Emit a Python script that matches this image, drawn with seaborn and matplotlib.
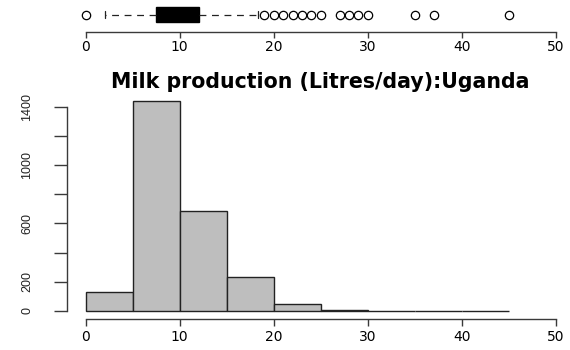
import matplotlib
matplotlib.use("Agg")
import matplotlib.pyplot as plt
import seaborn as sns
import numpy as np

# ---- data ----
bin_edges = [0, 5, 10, 15, 20, 25, 30, 35, 40, 45]
bin_counts = [130, 1439, 685, 231, 50, 5, 2, 1, 1]
x_ticks = [0, 10, 20, 30, 40, 50]
y_ticks = [0, 200, 400, 600, 800, 1000, 1200, 1400]
y_tick_labels = ["0", "200", "", "600", "", "1000", "", "1400"]
title = "Milk production (Litres/day):Uganda"

box_q1 = 7.5
box_median = 10.0
box_q3 = 12.0
whisker_low = 2.0
whisker_high = 18.3
outliers = [0, 19, 20, 21, 22, 23, 24, 25, 27, 28, 29, 30, 35, 37, 45]

sns.set_theme(style="white")
plt.rcParams["font.family"] = ["DejaVu Sans"]

fig = plt.figure(figsize=(5.7, 3.5), dpi=100)
fig.patch.set_facecolor("white")

W, H = 570.0, 350.0
left = 66.9 / W
width = 507.6 / W
ax_h = fig.add_axes([left, 30.6 / H, width, 226.8 / H])
ax_b = fig.add_axes([left, (H - 32.3) / H, width, 32.3 / H])

axis_col = "#3a3a3a"

# ---- histogram ----
mids = [(a + b) / 2 for a, b in zip(bin_edges[:-1], bin_edges[1:])]
sns.histplot(x=mids, weights=bin_counts, bins=bin_edges, ax=ax_h,
             color="#BEBEBE", edgecolor="#222222", linewidth=1.0, alpha=1.0)
ax_h.set_xlim(-2, 52)
top = max(bin_counts) * 1.04
ax_h.set_ylim(-0.04 * max(bin_counts), top)
ax_h.set_xlabel("")
ax_h.set_ylabel("")
ax_h.set_xticks(x_ticks)
ax_h.set_xticklabels([str(t) for t in x_ticks], fontsize=10)
ax_h.set_yticks(y_ticks)
ax_h.set_yticklabels(y_tick_labels, fontsize=9, family="Liberation Sans")
for s in ["top", "right"]:
    ax_h.spines[s].set_visible(False)
ax_h.spines["left"].set_bounds(0, 1400)
ax_h.spines["bottom"].set_bounds(0, 50)
for s in ["left", "bottom"]:
    ax_h.spines[s].set_color(axis_col)
    ax_h.spines[s].set_linewidth(1.0)
ax_h.tick_params(axis="x", direction="out", length=5, width=1.0, color=axis_col,
                 pad=2.5, labelcolor="black", bottom=True)
ax_h.tick_params(axis="y", direction="out", length=9.2, width=1.0, color=axis_col,
                 pad=15, labelrotation=90, labelcolor="#222222", left=True)
for lab in ax_h.get_yticklabels():
    lab.set_va("center")
ax_h.set_title(title, fontsize=14.8, fontweight="bold", pad=3.0, color="black")
ax_h.grid(False)

# ---- boxplot ----
stats = [dict(med=box_median, q1=box_q1, q3=box_q3,
              whislo=whisker_low, whishi=whisker_high, fliers=outliers)]
ax_b.bxp(stats, positions=[0.551], widths=[0.446], orientation="horizontal",
         patch_artist=True, capwidths=[0.22],
         boxprops=dict(facecolor="black", edgecolor="black", linewidth=1),
         medianprops=dict(color="black", linewidth=2),
         whiskerprops=dict(color="#222222", linewidth=0.9, linestyle=(0, (5.5, 4.5))),
         capprops=dict(color="#222222", linewidth=0.9),
         flierprops=dict(marker="o", markerfacecolor="none", markeredgecolor="black",
                         markersize=6, markeredgewidth=0.9))
ax_b.set_xlim(-2, 52)
ax_b.set_ylim(0, 1)
ax_b.set_yticks([])
for s in ["top", "right", "left"]:
    ax_b.spines[s].set_visible(False)
ax_b.spines["bottom"].set_bounds(0, 50)
ax_b.spines["bottom"].set_color(axis_col)
ax_b.spines["bottom"].set_linewidth(1.0)
ax_b.set_xticks(x_ticks)
ax_b.set_xticklabels([str(t) for t in x_ticks], fontsize=10)
ax_b.tick_params(axis="x", direction="out", length=4.3, width=1.0, color=axis_col,
                 pad=1.0, labelcolor="black", bottom=True)
ax_b.patch.set_alpha(0)
ax_b.grid(False)

fig.savefig("out.png", dpi=100, facecolor="white")
